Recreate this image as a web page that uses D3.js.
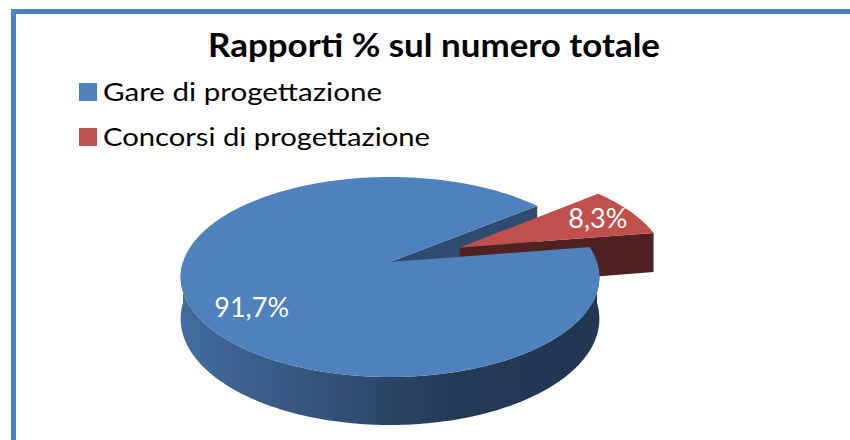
<!DOCTYPE html>
<meta charset="utf-8">
<style>
body { margin: 0; background: #fff; }
.title { font: bold 33px Lato, sans-serif; fill: #000; }
.legend text { font: 25px Lato, sans-serif; fill: #000; }
.label { font: 27px Lato, sans-serif; fill: #fff; }
</style>
<body>
<script src="https://cdn.jsdelivr.net/npm/d3@7"></script>
<script>

var categories = ["Gare di progettazione", "Concorsi di progettazione"];
var values = [91.7, 8.3];
var labels = ["91,7%", "8,3%"];
var colors = ["#4F81BD", "#C0504D"];

var width = 850,
    height = 440;

// 3d pie geometry
var cx = 390, cy = 262,
    rx = 207, ry = 97.75,
    persp = 0.15,
    depth = 40.8,
    explode = [0, 0.377],
    cutShade = [1.5, 2.5],
    labelR = [0.7, 0.8],
    labelDy = [16, 0];

var rad = Math.PI / 180;

var svg = d3.select("body").append("svg")
    .attr("width", width)
    .attr("height", height);

svg.append("rect")
    .attr("width", width).attr("height", height)
    .attr("fill", "#fff");

// frame
svg.append("rect")
    .attr("x", 13.5).attr("y", 11.5)
    .attr("width", width).attr("height", height)
    .attr("fill", "none")
    .attr("stroke", "#4F81BD")
    .attr("stroke-width", 5);

function proj(u, v, z) {
  var f = 1 / (1 - persp * v);
  return [cx + rx * u * f, cy + (ry * v + z) * f];
}

var pie = d3.pie().sort(null)
    .startAngle(81 * rad)
    .endAngle(441 * rad);

var arcs = pie(values).map(function(d, i) {
  var a0 = d.startAngle - Math.PI / 2,
      a1 = d.endAngle - Math.PI / 2,
      mid = (a0 + a1) / 2;
  return {i: i, a0: a0, a1: a1, mid: mid,
    ox: explode[i] * Math.cos(mid), oy: explode[i] * Math.sin(mid)};
});

function rim(s, a, z) {
  return proj(s.ox + Math.cos(a), s.oy + Math.sin(a), z);
}
function angles(a0, a1) {
  var n = Math.max(2, Math.ceil((a1 - a0) / rad));
  return d3.range(n + 1).map(function(k) { return a0 + (a1 - a0) * k / n; });
}

var line = d3.line();

var defs = svg.append("defs");
arcs.forEach(function(s) {
  var c = d3.color(colors[s.i]);
  var g = defs.append("linearGradient")
      .attr("id", "side" + s.i)
      .attr("gradientUnits", "userSpaceOnUse")
      .attr("x1", cx - rx).attr("x2", cx + rx)
      .attr("y1", 0).attr("y2", 0);
  [[0, 0.5], [0.65, 2.2], [1, 2.4]].forEach(function(st) {
    g.append("stop").attr("offset", st[0]).attr("stop-color", c.darker(st[1]));
  });
});

var gPie = svg.append("g");

// cut faces
arcs.forEach(function(s) {
  var apexT = proj(s.ox, s.oy, 0), apexB = proj(s.ox, s.oy, depth);
  var edges = [];
  if (-Math.cos(s.a0) > 0) edges.push(s.a0);
  if (Math.cos(s.a1) > 0) edges.push(s.a1);
  edges.forEach(function(a) {
    gPie.append("path")
        .attr("d", line([apexT, rim(s, a, 0), rim(s, a, depth), apexB]) + "Z")
        .attr("fill", d3.color(colors[s.i]).darker(cutShade[s.i]));
  });
});

// outer sides (front half only)
arcs.forEach(function(s) {
  [-2, 0, 2].forEach(function(k) {
    var lo = Math.max(s.a0, k * Math.PI), hi = Math.min(s.a1, (k + 1) * Math.PI);
    if (hi <= lo) return;
    var as = angles(lo, hi);
    var pts = as.map(function(a) { return rim(s, a, 0); })
        .concat(as.slice().reverse().map(function(a) { return rim(s, a, depth); }));
    gPie.append("path")
        .attr("d", line(pts) + "Z")
        .attr("fill", "url(#side" + s.i + ")");
  });
});

// top faces
arcs.forEach(function(s) {
  var pts = [proj(s.ox, s.oy, 0)].concat(angles(s.a0, s.a1).map(function(a) { return rim(s, a, 0); }));
  gPie.append("path")
      .attr("d", line(pts) + "Z")
      .attr("fill", colors[s.i]);
});

// data labels
arcs.forEach(function(s) {
  var p = proj(s.ox + labelR[s.i] * Math.cos(s.mid), s.oy + labelR[s.i] * Math.sin(s.mid), 0);
  svg.append("text")
      .attr("class", "label")
      .attr("x", p[0]).attr("y", p[1] + labelDy[s.i])
      .attr("text-anchor", "middle")
      .attr("dy", "0.36em")
      .text(labels[s.i]);
});

// title
svg.append("text")
    .attr("class", "title")
    .attr("x", 208).attr("y", 57)
    .attr("textLength", 452)
    .attr("lengthAdjust", "spacingAndGlyphs")
    .text("Rapporti % sul numero totale");

// legend
var legendW = [279, 327];
var legend = svg.append("g").attr("class", "legend")
  .selectAll("g")
  .data(categories)
  .enter().append("g")
    .attr("transform", function(d, i) { return "translate(79," + (83 + i * 45) + ")"; });

legend.append("rect")
    .attr("width", 18).attr("height", 18)
    .attr("fill", function(d, i) { return colors[i]; });

legend.append("text")
    .attr("x", 24).attr("y", 18)
    .attr("textLength", function(d, i) { return legendW[i]; })
    .attr("lengthAdjust", "spacingAndGlyphs")
    .text(function(d) { return d; });

</script>
</body>
</html>
